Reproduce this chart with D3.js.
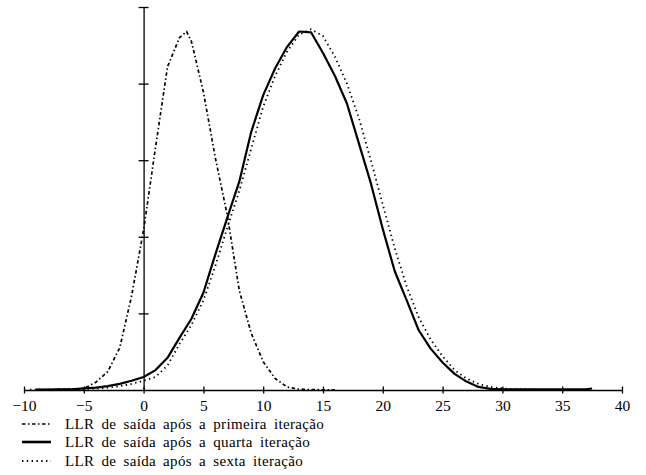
<!DOCTYPE html>
<html>
<head>
<meta charset="utf-8">
<script src="https://cdn.jsdelivr.net/npm/d3@7"></script>
<style>
  html, body { margin: 0; padding: 0; background: #fff; }
  svg { display: block; }
  svg text { font-family: "Liberation Serif", "Times New Roman", Times, serif !important; fill: #000; }
</style>
</head>
<body>
<svg id="chart" width="646" height="475"></svg>
<script>
// ---- data ----
const xTicks = [-10, -5, 0, 5, 10, 15, 20, 25, 30, 35, 40];
const yTicks = [1, 2, 3, 4, 5];

const firstX = [-9, -8, -7, -6, -5, -4, -3, -2, -1, 0, 1, 2, 3, 3.6, 4, 5, 6, 7, 8, 9, 10, 11, 12, 13, 14, 15, 16];
const firstY = [0.005, 0.005, 0.005, 0.01, 0.02, 0.1, 0.24, 0.55, 1.23, 2.09, 3.17, 4.22, 4.6, 4.68, 4.55, 3.89, 3.03, 2.28, 1.3, 0.74, 0.37, 0.15, 0.04, 0.01, 0.005, 0.003, 0.003];

const fourthX = [-9, -8, -7, -6, -5, -4, -3, -2, -1, 0, 1, 2, 3, 4, 5, 6, 7, 8, 9, 10, 11, 12, 13, 14, 15, 16, 17, 18, 19, 20, 21, 22, 23, 24, 25, 26, 27, 28, 29, 30, 31, 32, 33, 34, 35, 36, 37, 37.5];
const fourthY = [0.005, 0.005, 0.01, 0.01, 0.02, 0.03, 0.05, 0.08, 0.12, 0.17, 0.26, 0.42, 0.68, 0.93, 1.27, 1.77, 2.25, 2.72, 3.37, 3.85, 4.2, 4.48, 4.68, 4.67, 4.4, 4.1, 3.74, 3.22, 2.7, 2.1, 1.55, 1.17, 0.78, 0.54, 0.36, 0.21, 0.11, 0.04, 0.015, 0.01, 0.008, 0.008, 0.008, 0.008, 0.008, 0.008, 0.01, 0.02];

const sixthX = [-9.5, -9, -8, -7, -6, -5, -4, -3, -2, -1, 0, 1, 2, 3, 4, 5, 6, 7, 8, 9, 10, 11, 12, 13, 14, 15, 16, 17, 18, 19, 20, 21, 22, 23, 24, 25, 26, 27, 28, 29, 30, 31, 32, 33];
const sixthY = [0.005, 0.005, 0.005, 0.01, 0.01, 0.015, 0.02, 0.03, 0.05, 0.08, 0.12, 0.17, 0.32, 0.6, 0.85, 1.17, 1.62, 2.12, 2.6, 3.15, 3.7, 4.1, 4.42, 4.64, 4.71, 4.62, 4.35, 4.0, 3.55, 3.0, 2.42, 1.85, 1.35, 0.95, 0.66, 0.44, 0.26, 0.15, 0.08, 0.04, 0.02, 0.01, 0.005, 0.003];

const seriesNames = [
  "LLR de saída após a primeira iteração",
  "LLR de saída após a quarta iteração",
  "LLR de saída após a sexta iteração"
];

// ---- chart ----
const svg = d3.select("#chart");
const x = d3.scaleLinear().domain([-10, 40]).range([24, 622]);
const y = d3.scaleLinear().domain([0, 5]).range([390, 7]);
const FONT = '"Liberation Serif", "Times New Roman", Times, serif';

const styles = [
  { width: 1.7, dash: "3.5,2.5,1.5,2.5" },
  { width: 2.2, dash: null },
  { width: 1.8, dash: "1.4,3.4" }
];

// x axis
const gx = svg.append("g")
  .attr("transform", `translate(0,${y(0)})`)
  .call(d3.axisBottom(x).tickValues(xTicks).tickSize(0).tickPadding(10));
gx.attr("font-family", null);
gx.select(".domain").attr("stroke", "#000").attr("stroke-width", 1.3);
gx.selectAll(".tick line").attr("y1", -3.5).attr("y2", 3.5).attr("stroke", "#000").attr("stroke-width", 1.3);
gx.selectAll(".tick text").attr("font-size", 15.5).style("font-family", FONT);

// y axis
const gy = svg.append("g")
  .attr("transform", `translate(${x(0)},0)`)
  .call(d3.axisLeft(y).tickValues(yTicks).tickFormat("").tickSize(0));
gy.select(".domain").attr("stroke", "#000").attr("stroke-width", 1.3);
gy.selectAll(".tick line").attr("x1", -5).attr("x2", 5).attr("stroke", "#000").attr("stroke-width", 1.3);

// curves
const line = d3.line().x(d => x(d[0])).y(d => y(d[1]));
const allSeries = [
  d3.zip(firstX, firstY),
  d3.zip(fourthX, fourthY),
  d3.zip(sixthX, sixthY)
];
allSeries.forEach((s, i) => {
  svg.append("path")
    .datum(s)
    .attr("d", line)
    .attr("fill", "none")
    .attr("stroke", "#000")
    .attr("stroke-width", styles[i].width)
    .attr("stroke-dasharray", styles[i].dash)
    .attr("stroke-linejoin", "round");
});

// legend
const legendY = [424, 442, 461];
seriesNames.forEach((name, i) => {
  const g = svg.append("g").attr("transform", `translate(0,${legendY[i]})`);
  g.append("line")
    .attr("x1", 22).attr("x2", 51).attr("y1", 0).attr("y2", 0)
    .attr("stroke", "#000")
    .attr("stroke-width", i === 1 ? 2.6 : styles[i].width)
    .attr("stroke-dasharray", styles[i].dash);
  g.append("text")
    .attr("x", 65).attr("y", 0).attr("dy", "0.35em")
    .attr("font-size", 15)
    .attr("letter-spacing", 0.35)
    .attr("word-spacing", 3)
    .style("font-family", FONT)
    .text(name);
});
</script>
</body>
</html>
